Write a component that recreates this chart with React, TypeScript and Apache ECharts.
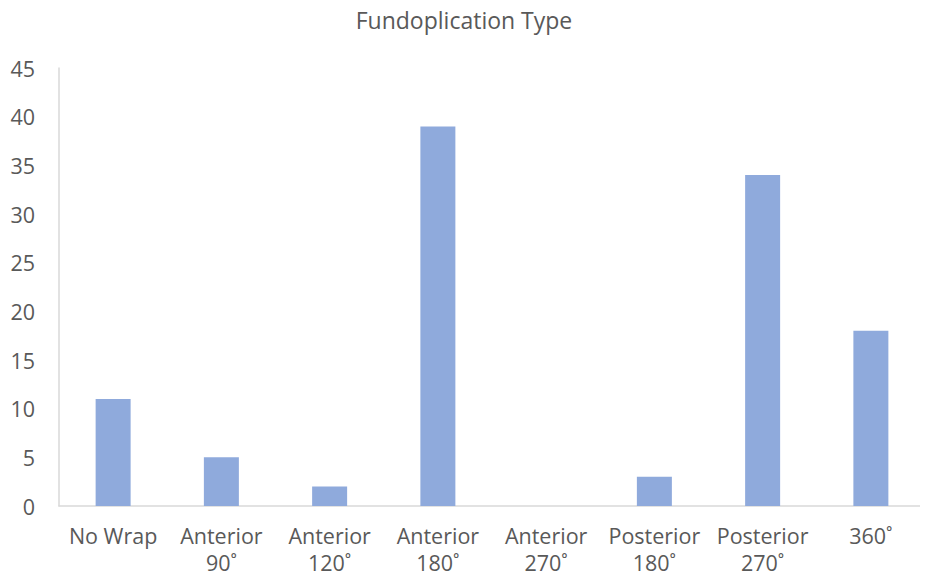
import React, { useEffect, useRef } from "react";
import * as echarts from "echarts";

const categories = ["No Wrap", "Anterior\n90˚", "Anterior\n120˚", "Anterior\n180˚", "Anterior\n270˚", "Posterior\n180˚", "Posterior\n270˚", "360˚"];
const counts = [11, 5, 2, 39, 0, 3, 34, 18];
const titleText = "Fundoplication Type";

export default function App() {
  const ref = useRef<HTMLDivElement>(null);
  useEffect(() => {
    if (!ref.current) return;
    const chart = echarts.init(ref.current, null, { renderer: "svg" });
    const font = "'Open Sans', sans-serif";
    chart.setOption({
      animation: false,
      backgroundColor: "#ffffff",
      title: {
        text: titleText,
        left: "center",
        top: 3,
        textStyle: { color: "#595959", fontFamily: font, fontSize: 23, fontWeight: "normal" },
      },
      grid: { left: 59, right: 3, top: 68, bottom: 75, containLabel: false },
      xAxis: {
        type: "category",
        data: categories,
        axisLine: { show: true, lineStyle: { color: "#D9D9D9", width: 1.5 } },
        axisTick: { show: false },
        axisLabel: { color: "#595959", fontFamily: font, fontSize: 21.5, lineHeight: 27, margin: 16, interval: 0 },
      },
      yAxis: {
        type: "value",
        min: 0,
        max: 45,
        interval: 5,
        axisLine: { show: true, lineStyle: { color: "#D9D9D9", width: 1.5 } },
        axisTick: { show: false },
        splitLine: { show: false },
        axisLabel: { color: "#595959", fontFamily: font, fontSize: 21.5, margin: 24 },
      },
      series: [
        {
          type: "bar",
          data: counts,
          barWidth: 35,
          itemStyle: { color: "#8FAADC" },
        },
      ],
    });
    return () => chart.dispose();
  }, []);
  return <div ref={ref} style={{ width: 928, height: 581, margin: -8 }} />;
}
